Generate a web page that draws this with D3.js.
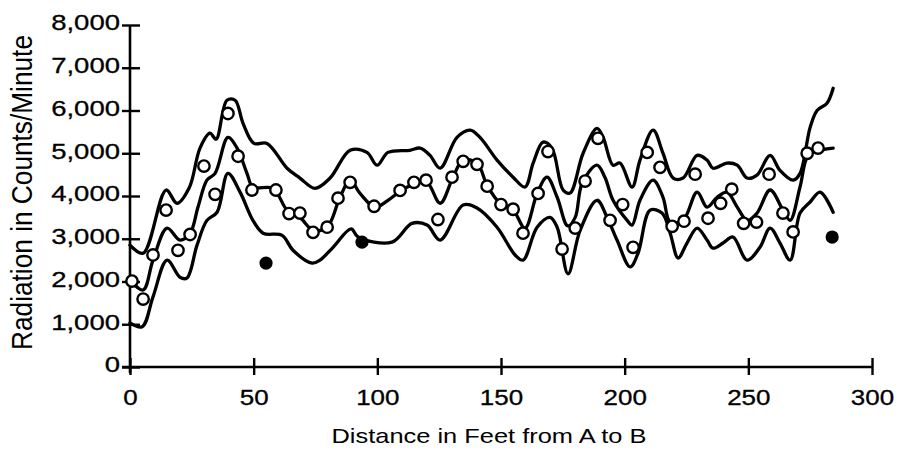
<!DOCTYPE html>
<html>
<head>
<meta charset="utf-8">
<script src="https://cdn.jsdelivr.net/npm/d3@7"></script>
<style>
  html, body { margin: 0; padding: 0; background: #fff; }
  svg { display: block; font-family: "Liberation Sans", Arial, Helvetica, sans-serif; }
</style>
</head>
<body>
<svg id="chart" width="899" height="452"></svg>
<script>
// readings along the traverse, [feet, counts/minute]
const upperBand = [
  [0, 2850], [5.3, 2660], [14.6, 4140], [19, 3830], [24, 4200], [28.3, 5120],
  [32.3, 5470], [34.8, 5330], [39.2, 6240], [42.5, 6240], [45.7, 5700], [50.1, 5230],
  [55.4, 5230], [63.5, 4650], [68.7, 4420], [74.8, 4180], [80.9, 4420], [89, 5070],
  [95.8, 5020], [99.9, 4720], [104.3, 5020], [113.2, 5070], [117.3, 5120], [121.3, 4950],
  [125.4, 4650], [132.2, 5370], [137.5, 5540], [141.5, 5370], [148.4, 4840], [154.9, 4440],
  [159.7, 4210], [163, 4770], [167, 5260], [170.6, 5120], [175.1, 4140], [177.9, 4070],
  [183.2, 5000], [188.8, 5580], [191.3, 5370], [195.3, 4720], [198.1, 4770], [203, 4210],
  [206.2, 4840], [211.5, 5540], [215.5, 5000], [219.6, 4420], [223.6, 4420], [229.3, 4950],
  [233.3, 4840], [235.7, 4650], [241.4, 4770], [245.5, 4720], [249.5, 4420], [253.5, 4490],
  [258.8, 4950], [262.8, 4600], [268.1, 4370], [270.9, 4530], [275, 5610], [277.8, 6000],
  [281.8, 6170], [284.3, 6520]
];

const middleBand = [
  [0, 2030], [5.3, 1800], [9.3, 2500], [15, 3250], [20.2, 2970], [24.3, 3130],
  [27.5, 3740], [31.1, 4370], [34.4, 4530], [39.6, 5370], [43.3, 5120], [47.3, 4530],
  [49.7, 4210], [57.8, 4180], [63.5, 3670], [68.7, 3500], [74, 3200], [79.7, 3270],
  [84.9, 3970], [89, 4370], [93, 4060], [99.1, 3740], [104.3, 3900], [110, 4140],
  [116, 4300], [120.1, 4320], [125.4, 3830], [130.6, 4440], [134.7, 4840], [140.3, 4770],
  [144.4, 4250], [149.6, 3830], [154.9, 3670], [159.7, 3250], [164.6, 4060], [168.6, 4440],
  [172.7, 3970], [177, 3300], [180, 3500], [182.8, 4300], [188.8, 4720], [192, 4440],
  [195.3, 3900], [201, 3430], [203, 3320], [206.2, 3900], [211.5, 4370], [215.5, 3970],
  [218.4, 3390], [223.6, 3430], [229.3, 4090], [233.3, 3740], [237.4, 3970], [241.4, 4090],
  [245.5, 3740], [249.5, 3430], [253.5, 3600], [258.8, 4140], [264, 3670], [266.9, 3430],
  [270.9, 4210], [274.2, 4950], [279, 5070], [284.3, 5120]
];

const lowerBand = [
  [0, 1030], [4.9, 940], [9.3, 1640], [15, 2500], [20.2, 2100], [23, 2080],
  [27.1, 2850], [31.1, 3430], [35.2, 3620], [39.6, 4530], [44.5, 4090], [49.7, 3430],
  [53.8, 3130], [61.5, 3080], [65.9, 2730], [73.6, 2430], [76.8, 2500], [82.1, 2800],
  [89.4, 3230], [92.2, 3040], [105.9, 2920], [114, 3360], [120.1, 3320], [125.4, 2970],
  [134.7, 3790], [140.3, 3720], [148.4, 3270], [155.7, 2620], [158.9, 2500], [164.6, 3270],
  [169.8, 3500], [172.7, 3270], [177.1, 2180], [182, 3200], [188.8, 3900], [192.9, 3500],
  [196.9, 2970], [202.2, 2340], [205.4, 2660], [210.3, 3670], [215.1, 3600], [218.4, 3130],
  [221.6, 2550], [225.2, 2900], [229.3, 3250], [233.3, 2970], [235.7, 2780], [239.8, 2900],
  [243.8, 3040], [249.5, 2500], [254.7, 2800], [258.8, 3250], [262.8, 2900], [266.9, 2500],
  [270.9, 3600], [275, 3860], [279, 4090], [284.3, 3620]
];

// open circles: individual readings
const openX = [0.8, 5.3, 9.3, 14.6, 19.4, 24.3, 29.9, 34.4, 39.6, 43.7, 49.3, 59,
  64.3, 68.7, 74, 79.7, 84.1, 89, 98.7, 109.2, 114.8, 119.7, 124.5, 130.2,
  134.7, 140.3, 144.4, 150, 154.9, 158.9, 165, 169, 174.7, 180, 184, 189.2,
  194.1, 199.2, 203.4, 209.1, 214.3, 219.2, 224, 228.5, 233.7, 238.8, 243.3, 248.1,
  253.3, 258.4, 264, 268.1, 273.8, 278.2];
const openY = [2010, 1590, 2620, 3670, 2730, 3100, 4700, 4040, 5930, 4930, 4140, 4140,
  3590, 3600, 3150, 3270, 3950, 4320, 3760, 4130, 4320, 4370, 3450, 4440,
  4810, 4740, 4230, 3800, 3690, 3130, 4060, 5040, 2760, 3250, 4350, 5350,
  3430, 3800, 2800, 5020, 4670, 3290, 3410, 4510, 3480, 3830, 4160, 3360,
  3390, 4510, 3600, 3160, 5000, 5120];

// filled dots
const solidX = [55, 93.8, 283.9];
const solidY = [2430, 2920, 3040];

const xTicks = [0, 50, 100, 150, 200, 250, 300];
const yTicks = [0, 1000, 2000, 3000, 4000, 5000, 6000, 7000, 8000];

const xLabel = "Distance in Feet from A to B";
const yLabel = "Radiation in Counts/Minute";

const svg = d3.select("#chart");

const x = d3.scaleLinear().domain([0, 300]).range([130, 872]);
const y = d3.scaleLinear().domain([0, 8000]).range([367, 25]);

// stretch text sideways a bit, the scan is wider than it is tall
function widen(sel, k) {
  sel.each(function () {
    const w = this.getComputedTextLength();
    d3.select(this).attr("textLength", w * k).attr("lengthAdjust", "spacingAndGlyphs");
  });
}

// axes
const gx = svg.append("g")
  .attr("transform", `translate(0,${y(0)})`)
  .call(d3.axisBottom(x).tickValues(xTicks).tickSizeInner(8).tickSizeOuter(0).tickPadding(14));

const gy = svg.append("g")
  .attr("transform", `translate(${x(0)},0)`)
  .call(d3.axisLeft(y).tickValues(yTicks).tickFormat(d3.format(",")).tickSizeInner(8).tickSizeOuter(0).tickPadding(2));

[gx, gy].forEach((g) => {
  g.select(".domain").attr("stroke", "#000").attr("stroke-width", 2.6);
  g.selectAll(".tick line").attr("stroke", "#000").attr("stroke-width", 2.4);
  g.selectAll(".tick text")
    .attr("fill", "#000")
    .attr("font-size", 22)
    .attr("font-family", "Liberation Sans, Arial, sans-serif")
    .attr("stroke", "#000")
    .attr("stroke-width", 0.3);
});
gx.selectAll(".tick line").attr("y1", -9);
gy.selectAll(".tick line").attr("x1", 10);
gy.selectAll(".tick text").attr("dy", "0.22em");
// x axis line starts left of the y axis
gx.select(".domain").attr("d", `M${x(0) - 8},0H${x(300)}`);
gy.select(".domain").attr("d", `M0,${y(8000)}V${y(0) + 6}`);

widen(gx.selectAll(".tick text"), 1.18);
widen(gy.selectAll(".tick text"), 1.25);

// bands
const line = d3.line()
  .x((d) => x(d[0]))
  .y((d) => y(d[1]))
  .curve(d3.curveCatmullRom.alpha(0.5));

svg.append("g")
  .selectAll("path.band")
  .data([upperBand, middleBand, lowerBand])
  .enter()
  .append("path")
  .attr("class", "band")
  .attr("d", line)
  .attr("fill", "none")
  .attr("stroke", "#000")
  .attr("stroke-width", 3.3)
  .attr("stroke-linejoin", "round")
  .attr("stroke-linecap", "round");

// open readings
svg.append("g")
  .selectAll("circle.open")
  .data(openX.map((v, i) => [v, openY[i]]))
  .enter()
  .append("circle")
  .attr("class", "open")
  .attr("cx", (d) => x(d[0]))
  .attr("cy", (d) => y(d[1]))
  .attr("r", 5.7)
  .attr("fill", "#fff")
  .attr("stroke", "#000")
  .attr("stroke-width", 2.4);

// filled readings
svg.append("g")
  .selectAll("circle.solid")
  .data(solidX.map((v, i) => [v, solidY[i]]))
  .enter()
  .append("circle")
  .attr("class", "solid")
  .attr("cx", (d) => x(d[0]))
  .attr("cy", (d) => y(d[1]))
  .attr("r", 6.6)
  .attr("fill", "#000");

// axis titles
svg.append("text")
  .attr("x", 489)
  .attr("y", 443)
  .attr("text-anchor", "middle")
  .attr("font-size", 21)
  .attr("fill", "#000")
  .attr("textLength", 315)
  .attr("lengthAdjust", "spacingAndGlyphs")
  .text(xLabel);

svg.append("text")
  .attr("transform", "translate(32,192.5) scale(1.15,1) rotate(-90)")
  .attr("text-anchor", "middle")
  .attr("font-size", 26)
  .attr("fill", "#000")
  .attr("textLength", 315)
  .attr("lengthAdjust", "spacingAndGlyphs")
  .text(yLabel);
</script>
</body>
</html>
